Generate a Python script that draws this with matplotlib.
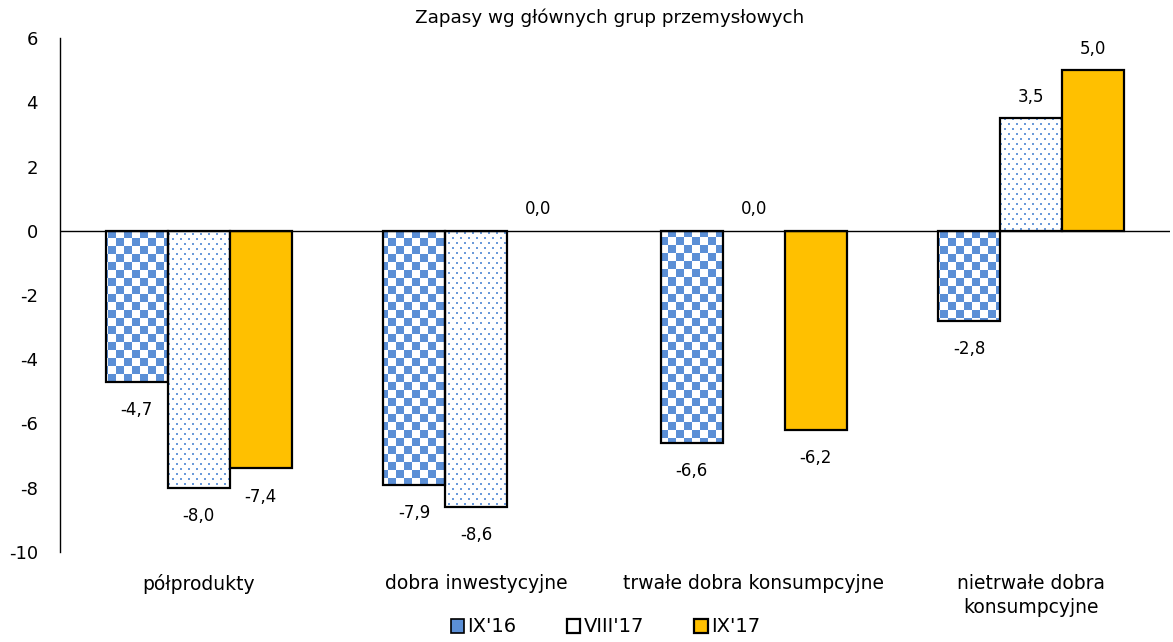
import numpy as np
import matplotlib
matplotlib.use("Agg")
import matplotlib.pyplot as plt
from matplotlib.patches import Patch

plt.rcParams['font.family'] = ['DejaVu Sans']

categories = ["półprodukty", "dobra inwestycyjne", "trwałe dobra konsumpcyjne",
              "nietrwałe dobra\nkonsumpcyjne"]
series_names = ["IX'16", "VIII'17", "IX'17"]
ix16 = [-4.7, -7.9, -6.6, -2.8]
viii17 = [-8.0, -8.6, 0.0, 3.5]
ix17 = [-7.4, 0.0, -6.2, 5.0]
yticks = [-10, -8, -6, -4, -2, 0, 2, 4, 6]
title = "Zapasy wg głównych grup przemysłowych"

BLUE = np.array([0x5B, 0x8F, 0xD6]) / 255.0
YELLOW = "#FFC000"

W_PX, H_PX = 1173, 642
fig = plt.figure(figsize=(W_PX / 100, H_PX / 100), dpi=100)
left, right, top, bottom = 60, 1170, 38, 552
ax = fig.add_axes([left / W_PX, 1 - bottom / H_PX, (right - left) / W_PX, (bottom - top) / H_PX])

ax.set_xlim(-0.5, len(categories) - 0.5)
ax.set_ylim(-10, 6)

# pixel-resolution fill patterns covering the whole axes
aw, ah = right - left, bottom - top
yy, xx = np.mgrid[0:ah, 0:aw]
cell = 8
checker = ((xx // cell + yy // cell) % 2 == 0)
img_check = np.ones((ah, aw, 3))
img_check[checker] = BLUE

row = yy % 10
dots = (((row < 2) & ((xx % 8) < 2)) | ((row >= 5) & (row < 7) & (((xx + 4) % 8) < 2)))
img_dots = np.ones((ah, aw, 3))
img_dots[dots] = 1 - (1 - BLUE) * 0.9

extent = (-0.5, len(categories) - 0.5, -10, 6)
x = np.arange(len(categories))
bw = 0.223
offsets = [-bw, 0, bw]
fills = [img_check, img_dots, None]
data = [ix16, viii17, ix17]

for vals, off, fill in zip(data, offsets, fills):
    bars = ax.bar(x + off, vals, bw,
                  facecolor=YELLOW if fill is None else "none",
                  edgecolor="black", linewidth=1.6, zorder=3)
    for b, v in zip(bars, vals):
        if v == 0:
            b.set_linewidth(0)
        elif fill is not None:
            im = ax.imshow(fill, extent=extent, aspect="auto",
                           interpolation="nearest", zorder=2, origin="upper")
            im.set_clip_path(b)
        lbl = f"{v:.1f}".replace(".", ",")
        if v < 0:
            ax.annotate(lbl, (b.get_x() + b.get_width() / 2, v), xytext=(0, -14),
                        textcoords="offset points", ha="center", va="top", fontsize=12)
        else:
            ax.annotate(lbl, (b.get_x() + b.get_width() / 2, v), xytext=(0, 9),
                        textcoords="offset points", ha="center", va="bottom", fontsize=12)

ax.set_aspect("auto")
ax.set_xlim(-0.5, len(categories) - 0.5)
ax.set_ylim(-10, 6)

ax.axhline(0, color="black", linewidth=1.0, zorder=4)
for s in ["top", "right", "bottom"]:
    ax.spines[s].set_visible(False)
ax.spines["left"].set_linewidth(1.0)

ax.set_yticks(yticks)
ax.set_yticklabels([str(t) for t in yticks], fontsize=13)
ax.tick_params(axis="y", length=0, pad=16)
ax.set_xticks(x)
ax.set_xticklabels(categories, fontsize=13.5, linespacing=1.3)
ax.tick_params(axis="x", length=0, pad=16)

fig.text(0.52, 1 - 18 / H_PX, title, ha="center", va="center", fontsize=13.2)

handles = [Patch(facecolor=BLUE, edgecolor="black", linewidth=1.2),
           Patch(facecolor="white", edgecolor="black", linewidth=1.6),
           Patch(facecolor=YELLOW, edgecolor="black", linewidth=1.6)]
fig.legend(handles, series_names, loc="center", bbox_to_anchor=(0.516, 1 - 627 / H_PX),
           ncol=3, frameon=False, fontsize=14, handlelength=0.7, handleheight=0.7,
           handletextpad=0.15, columnspacing=2.6)

fig.savefig("out.png", dpi=100)
